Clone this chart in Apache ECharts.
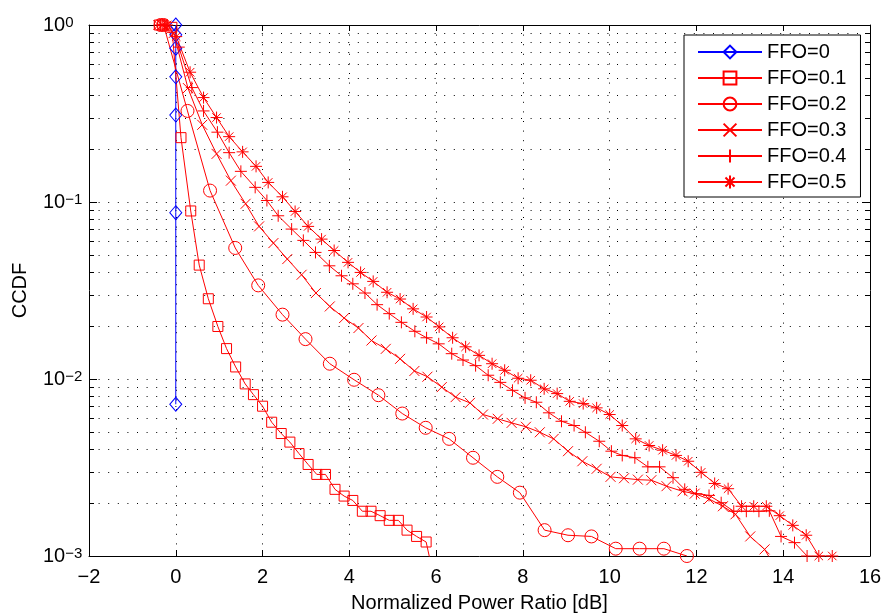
<!DOCTYPE html>
<html>
<head>
<meta charset="utf-8">
<script src="https://cdn.jsdelivr.net/npm/echarts@6/dist/echarts.min.js"></script>
<style>
  html, body { margin: 0; padding: 0; background: #fff; }
  #chart { width: 886px; height: 614px; }
</style>
</head>
<body>
<div id="chart"></div>
<script>
// x in dB, y = CCDF
const ffo0X = [0, 0, 0, 0, 0, 0, 0];
const ffo0Y = [1.0, 0.88, 0.74, 0.51, 0.31, 0.087, 0.0072];

const ffo1X = [-0.38, -0.3, -0.09, 0.12, 0.345, 0.54, 0.75, 0.97, 1.17, 1.38, 1.6, 1.79, 2.0, 2.21, 2.43, 2.63,
  2.84, 3.05, 3.25, 3.45, 3.67, 3.88, 4.08, 4.3, 4.5, 4.71, 4.92, 5.13, 5.33, 5.55, 5.77, 5.98];
const ffo1Y = [1, 1, 0.97, 0.231, 0.089, 0.044, 0.0284, 0.0198, 0.01485, 0.0117, 0.00938, 0.00816, 0.00702, 0.0057,
  0.00492, 0.0044, 0.00379, 0.00329, 0.00289, 0.00289, 0.00238, 0.00218, 0.00206, 0.00179, 0.00179, 0.00169,
  0.00159, 0.00159, 0.0014, 0.00129, 0.0012, 0.0007];

const ffo2X = [-0.35, -0.28, 0.27, 0.79, 1.37, 1.9, 2.46, 2.99, 3.55, 4.11, 4.67, 5.22, 5.76, 6.3, 6.85, 7.41,
  7.93, 8.5, 9.04, 9.58, 10.14, 10.69, 11.25, 11.78];
const ffo2Y = [1, 1, 0.327, 0.116, 0.055, 0.0338, 0.0231, 0.0168, 0.0122, 0.0099, 0.0081, 0.00638, 0.0053, 0.00459,
  0.00359, 0.0028, 0.00228, 0.0014, 0.00131, 0.00129, 0.0011, 0.0011, 0.0011, 0.001];

const ffo3X = [-0.4, -0.32, -0.05, 0.28, 0.61, 0.94, 1.27, 1.61, 1.92, 2.25, 2.57, 2.9, 3.23, 3.55, 3.88, 4.21,
  4.51, 4.84, 5.17, 5.5, 5.8, 6.13, 6.45, 6.78, 7.08, 7.42, 7.74, 8.07, 8.39, 8.71, 9.04, 9.37, 9.7, 10.02,
  10.33, 10.65, 10.96, 11.31, 11.68, 11.96, 12.29, 12.61, 12.9, 13.24, 13.57, 13.9];
const ffo3Y = [1, 1, 0.9, 0.44, 0.273, 0.187, 0.132, 0.0977, 0.0728, 0.0586, 0.0476, 0.0388, 0.0306, 0.0257,
  0.0221, 0.0194, 0.0165, 0.0148, 0.013, 0.0111, 0.0103, 0.009, 0.0079, 0.00733, 0.0063, 0.00596, 0.00565,
  0.00537, 0.005, 0.00459, 0.00391, 0.00343, 0.00311, 0.0028, 0.00275, 0.0027, 0.00268, 0.00248, 0.00232,
  0.00225, 0.0021, 0.00191, 0.00172, 0.00129, 0.00109, 0.0008];

const ffo4X = [-0.35, -0.25, 0.07, 0.37, 0.64, 0.96, 1.23, 1.5, 1.83, 2.1, 2.36, 2.67, 2.94, 3.22, 3.54, 3.82,
  4.08, 4.36, 4.64, 4.92, 5.2, 5.51, 5.78, 6.06, 6.36, 6.62, 6.91, 7.2, 7.48, 7.76, 8.05, 8.31, 8.6, 8.89, 9.18,
  9.44, 9.76, 10.04, 10.29, 10.58, 10.88, 11.15, 11.46, 11.73, 12.0, 12.29, 12.57, 12.86, 13.15, 13.44, 13.68,
  13.95, 14.26, 14.55];
const ffo4Y = [1, 1, 0.75, 0.443, 0.327, 0.248, 0.19, 0.149, 0.121, 0.102, 0.0836, 0.0703, 0.0607, 0.0519,
  0.0436, 0.0383, 0.0345, 0.0306, 0.0263, 0.0234, 0.0209, 0.0186, 0.0171, 0.0158, 0.0139, 0.0128, 0.0119,
  0.0105, 0.00957, 0.00863, 0.00782, 0.00739, 0.00644, 0.00577, 0.00546, 0.005, 0.00445, 0.00391, 0.0037,
  0.00359, 0.00319, 0.00319, 0.00277, 0.00238, 0.00225, 0.0022, 0.002, 0.00179, 0.00179, 0.00179, 0.0018,
  0.00129, 0.00119, 0.001];

const ffo5X = [-0.3, -0.2, 0.01, 0.33, 0.64, 0.94, 1.23, 1.54, 1.85, 2.13, 2.46, 2.75, 3.05, 3.36, 3.65, 3.97,
  4.26, 4.55, 4.87, 5.17, 5.47, 5.78, 6.07, 6.38, 6.68, 6.99, 7.29, 7.58, 7.89, 8.18, 8.49, 8.79, 9.08, 9.39,
  9.7, 10.0, 10.29, 10.6, 10.91, 11.22, 11.53, 11.81, 12.11, 12.42, 12.73, 13.04, 13.32, 13.61, 13.92, 14.22,
  14.53, 14.82, 15.13];
const ffo5Y = [1, 1, 0.86, 0.541, 0.389, 0.3, 0.234, 0.192, 0.159, 0.129, 0.107, 0.0884, 0.0728, 0.0617, 0.0532,
  0.0456, 0.04, 0.0356, 0.0309, 0.0283, 0.0249, 0.0224, 0.0197, 0.0171, 0.0152, 0.0136, 0.0122, 0.0112, 0.0101,
  0.00984, 0.0088, 0.00827, 0.00748, 0.00726, 0.00687, 0.0063, 0.00546, 0.00459, 0.00421, 0.00396, 0.0037,
  0.00343, 0.00297, 0.00257, 0.0024, 0.00191, 0.00191, 0.00191, 0.00169, 0.00149, 0.00131, 0.001, 0.001];

const xTicks = { min: -2, max: 16, step: 2 };
const yRange = { min: 0.001, max: 1 };

const FONT = '"Liberation Sans", Arial, Helvetica, sans-serif';
const RED = '#ff0000';
const BLUE = '#0000ff';

// marker shapes like matlab's x, + and *
const SYM_X = 'path://M0 0L10 10M10 0L0 10';
const SYM_PLUS = 'path://M5 0L5 10M0 5L10 5';
const SYM_STAR = 'path://M5 0L5 10M0 5L10 5M1.46 1.46L8.54 8.54M8.54 1.46L1.46 8.54';

const seriesDefs = [
  { name: 'FFO=0', x: ffo0X, y: ffo0Y, symbol: 'diamond', size: [12, 14], color: BLUE },
  { name: 'FFO=0.1', x: ffo1X, y: ffo1Y, symbol: 'rect', size: 10, color: RED },
  { name: 'FFO=0.2', x: ffo2X, y: ffo2Y, symbol: 'circle', size: 13, color: RED },
  { name: 'FFO=0.3', x: ffo3X, y: ffo3Y, symbol: SYM_X, size: 10, color: RED },
  { name: 'FFO=0.4', x: ffo4X, y: ffo4Y, symbol: SYM_PLUS, size: 12, color: RED },
  { name: 'FFO=0.5', x: ffo5X, y: ffo5Y, symbol: SYM_STAR, size: 12, color: RED },
];

const fmtMinus = (v) => String(v).replace('-', '\u2212');

const chart = echarts.init(document.getElementById('chart'), null, { renderer: 'canvas' });

const axisLine = { show: true, onZero: false, lineStyle: { color: '#000', width: 1 } };
const dotted = { color: '#000', width: 1, type: [1, 8.6] };

chart.setOption({
  animation: false,
  textStyle: { fontFamily: FONT },
  grid: { left: 89, right: 16, top: 25, bottom: 58, containLabel: false, outerBoundsMode: 'none' },
  legend: {
    orient: 'vertical',
    left: 684,
    top: 35,
    padding: [7, 14, 5, 13],
    itemWidth: 64,
    itemHeight: 16,
    itemGap: 6,
    borderColor: '#000',
    borderWidth: 1,
    borderRadius: 0,
    backgroundColor: '#fff',
    textStyle: { fontSize: 20, color: '#000', fontFamily: FONT, lineHeight: 20 },
    data: seriesDefs.map((s) => s.name),
  },
  xAxis: [
    {
      type: 'value',
      position: 'bottom',
      min: xTicks.min,
      max: xTicks.max,
      interval: xTicks.step,
      axisLine,
      axisTick: { inside: true, length: 6, lineStyle: { color: '#000' } },
      axisLabel: { fontSize: 20, color: '#000', margin: 11, formatter: fmtMinus },
      splitLine: { show: true, lineStyle: dotted },
      name: 'Normalized Power Ratio [dB]',
      nameLocation: 'middle',
      nameGap: 37,
      nameTextStyle: { fontSize: 20, color: '#000' },
    },
    {
      type: 'value',
      position: 'top',
      min: xTicks.min,
      max: xTicks.max,
      interval: xTicks.step,
      axisLine,
      axisTick: { inside: true, length: 6, lineStyle: { color: '#000' } },
      axisLabel: { show: false },
      splitLine: { show: false },
    },
  ],
  yAxis: [
    {
      type: 'log',
      logBase: 10,
      position: 'left',
      min: yRange.min,
      max: yRange.max,
      axisLine,
      axisTick: { inside: true, length: 8, lineStyle: { color: '#000' } },
      axisLabel: {
        color: '#000',
        align: 'left',
        margin: 46,
        formatter: (v) => {
          const e = Math.round(Math.log10(v));
          return '{b|10}{s|' + fmtMinus(e) + '}';
        },
        rich: {
          b: { fontSize: 20, lineHeight: 20, padding: [8, 0, 8, 0], color: '#000', fontFamily: FONT },
          s: { fontSize: 15, lineHeight: 15, verticalAlign: 'top', color: '#000', fontFamily: FONT },
        },
      },
      splitLine: { show: true, lineStyle: dotted },
      name: 'CCDF',
      nameLocation: 'middle',
      nameGap: 59,
      nameTextStyle: { fontSize: 20, color: '#000' },
    },
    {
      type: 'log',
      logBase: 10,
      position: 'right',
      min: yRange.min,
      max: yRange.max,
      axisLine,
      axisTick: { inside: true, length: 8, lineStyle: { color: '#000' } },
      axisLabel: { show: false },
      splitLine: { show: false },
    },
  ],
  series: seriesDefs.map((s) => ({
    name: s.name,
    type: 'line',
    xAxisIndex: 0,
    yAxisIndex: 0,
    data: s.x.map((x, i) => [x, s.y[i]]),
    symbol: s.symbol,
    symbolSize: s.size,
    showSymbol: true,
    showAllSymbol: true,
    clip: true,
    silent: true,
    lineStyle: { color: s.color, width: 1 },
    itemStyle: { color: 'none', borderColor: s.color, borderWidth: 1 },
    emphasis: { disabled: true },
  })),
});

// log minor grid + minor ticks (2..9 per decade), placed through the axis scale
function drawMinor() {
  const els = [];
  const x0 = chart.convertToPixel({ xAxisIndex: 0 }, xTicks.min);
  const x1 = chart.convertToPixel({ xAxisIndex: 0 }, xTicks.max);
  for (let k = -3; k < 0; k++) {
    for (let m = 2; m <= 9; m++) {
      const v = m * Math.pow(10, k);
      const y = Math.round(chart.convertToPixel({ yAxisIndex: 0 }, v)) + 0.5;
      els.push({
        type: 'line', silent: true, z: 0,
        shape: { x1: x0, y1: y, x2: x1, y2: y },
        style: { stroke: '#000', lineWidth: 1, lineDash: [1, 8.6] },
      });
      els.push({
        type: 'line', silent: true, z: 5,
        shape: { x1: x0, y1: y, x2: x0 + 5, y2: y },
        style: { stroke: '#000', lineWidth: 1 },
      });
      els.push({
        type: 'line', silent: true, z: 5,
        shape: { x1: x1 - 5, y1: y, x2: x1, y2: y },
        style: { stroke: '#000', lineWidth: 1 },
      });
    }
  }
  chart.setOption({ graphic: els });
}
drawMinor();
</script>
</body>
</html>
